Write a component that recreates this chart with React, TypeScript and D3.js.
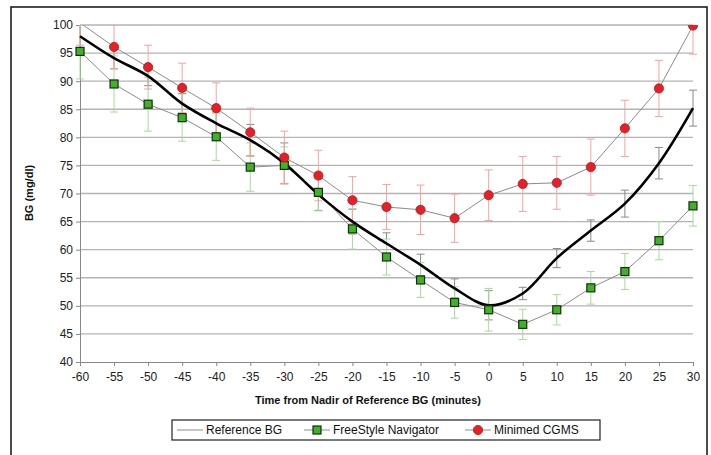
import React, { useEffect, useRef } from "react";
import * as d3 from "d3";

const minutes = [-60, -55, -50, -45, -40, -35, -30, -25, -20, -15, -10, -5, 0, 5, 10, 15, 20, 25, 30];

// Reference BG (thick black curve) and its error
const refBG = [98.0, 94.1, 90.9, 86.0, 82.5, 79.5, 75.4, 69.8, 65.0, 61.1, 57.3, 53.1, 50.1, 52.2, 58.5, 63.4, 68.2, 75.4, 85.2];
const refErr = [2.3, 1.9, 1.7, 1.8, 2.0, 2.8, 3.6, 2.8, 2.2, 1.9, 1.9, 1.7, 2.6, 1.1, 1.7, 1.9, 2.4, 2.8, 3.2];

// FreeStyle Navigator
const navigatorBG = [95.3, 89.5, 85.9, 83.5, 80.1, 74.7, 75.0, 70.2, 63.7, 58.7, 54.6, 50.6, 49.3, 46.7, 49.3, 53.2, 56.1, 61.6, 67.8];
const navigatorErr = [4.9, 5.0, 4.8, 4.2, 4.2, 4.3, 3.3, 3.3, 3.6, 3.2, 3.1, 2.8, 3.8, 2.7, 2.7, 2.9, 3.2, 3.4, 3.6];

// Minimed CGMS
const cgmsBG = [100.4, 96.1, 92.5, 88.8, 85.2, 80.9, 76.4, 73.2, 68.8, 67.6, 67.1, 65.6, 69.7, 71.7, 71.9, 74.7, 81.6, 88.7, 99.9];
const cgmsErr = [4.0, 3.9, 3.9, 4.4, 4.5, 4.3, 4.7, 4.5, 4.2, 4.0, 4.4, 4.3, 4.5, 4.9, 4.7, 5.0, 5.0, 5.0, 5.1];

const yTicks = [40, 45, 50, 55, 60, 65, 70, 75, 80, 85, 90, 95, 100];
const legendLabels = ["Reference BG", "FreeStyle Navigator", "Minimed CGMS"];

const W = 711, H = 455;
const font = "Arial, 'Liberation Sans', sans-serif";

function BGChart() {
  const ref = useRef<SVGSVGElement>(null);

  useEffect(() => {
    const svg = d3.select(ref.current);
    svg.selectAll("*").remove();

    const x = d3.scaleLinear().domain([-60, 30]).range([80, 693]);
    const y = d3.scaleLinear().domain([40, 100]).range([362, 25]);

    // outer frame
    svg.append("rect")
      .attr("x", 11).attr("y", 7)
      .attr("width", 696).attr("height", 470)
      .attr("fill", "white").attr("stroke", "#111").attr("stroke-width", 1.5);

    svg.append("defs").append("clipPath").attr("id", "plot")
      .append("rect").attr("x", 60).attr("y", 25).attr("width", 650).attr("height", 337);

    // gridlines
    svg.append("g")
      .selectAll("line")
      .data(yTicks.filter(t => t > 40))
      .join("line")
      .attr("x1", 80).attr("x2", 693)
      .attr("y1", d => y(d)).attr("y2", d => y(d))
      .attr("stroke", "#b4b4b4").attr("stroke-width", 1.3);

    const yAxis = g => g
      .attr("transform", "translate(80,0)")
      .call(d3.axisLeft(y).tickValues(yTicks).tickSize(4).tickPadding(3).tickFormat(d => String(d)))
      .call(g => g.selectAll("line, path").attr("stroke", "#888"))
      .call(g => g.selectAll("text").attr("font-size", 12).attr("font-family", font).attr("fill", "#222"));

    const xAxis = g => g
      .attr("transform", "translate(0,362)")
      .call(d3.axisBottom(x).tickValues(minutes).tickSize(4).tickPadding(6).tickSizeOuter(0).tickFormat(d => String(d)))
      .call(g => g.selectAll("line, path").attr("stroke", "#888"))
      .call(g => g.selectAll("text").attr("font-size", 12).attr("font-family", font).attr("fill", "#222"));

    svg.append("g").call(yAxis);
    svg.append("g").call(xAxis);

    const plot = svg.append("g").attr("clip-path", "url(#plot)");

    const errorBars = (vals: number[], errs: number[], color: string) => {
      const g = plot.append("g").attr("stroke", color).attr("stroke-width", 1);
      minutes.forEach((m, i) => {
        const cx = x(m), top = y(vals[i] + errs[i]), bot = y(vals[i] - errs[i]);
        g.append("line").attr("x1", cx).attr("x2", cx).attr("y1", top).attr("y2", bot);
        g.append("line").attr("x1", cx - 4).attr("x2", cx + 4).attr("y1", top).attr("y2", top);
        g.append("line").attr("x1", cx - 4).attr("x2", cx + 4).attr("y1", bot).attr("y2", bot);
      });
    };
    errorBars(refBG, refErr, "#8a8a8a");
    errorBars(navigatorBG, navigatorErr, "#a6dc98");
    errorBars(cgmsBG, cgmsErr, "#f5a3a3");

    const thin = d3.line<number>().x((d, i) => x(minutes[i])).y(d => y(d));
    const smooth = d3.line<number>().x((d, i) => x(minutes[i])).y(d => y(d)).curve(d3.curveCatmullRom.alpha(0.5));

    plot.append("path").datum(navigatorBG).attr("d", thin)
      .attr("fill", "none").attr("stroke", "#8c8c8c").attr("stroke-width", 1);
    plot.append("path").datum(cgmsBG).attr("d", thin)
      .attr("fill", "none").attr("stroke", "#8c8c8c").attr("stroke-width", 1);
    plot.append("path").datum(refBG).attr("d", smooth)
      .attr("fill", "none").attr("stroke", "#000").attr("stroke-width", 2.6);

    // markers
    plot.append("g")
      .selectAll("rect")
      .data(navigatorBG)
      .join("rect")
      .attr("x", (d, i) => x(minutes[i]) - 4).attr("y", d => y(d) - 4)
      .attr("width", 8).attr("height", 8)
      .attr("fill", "#43b02a").attr("stroke", "#13300e").attr("stroke-width", 1.2);

    plot.append("g")
      .selectAll("circle")
      .data(cgmsBG.map((v, i) => ({ v, m: minutes[i] })).filter(d => d.v <= 100))
      .join("circle")
      .attr("cx", d => x(d.m)).attr("cy", d => y(d.v))
      .attr("r", 4.6)
      .attr("fill", "#ee1c24").attr("stroke", "#8a2a2a").attr("stroke-width", 0.8);

    // axis titles
    svg.append("text")
      .attr("x", 368).attr("y", 404)
      .attr("text-anchor", "middle")
      .attr("font-family", font).attr("font-size", 11).attr("font-weight", "bold")
      .attr("fill", "#111")
      .text("Time from Nadir of Reference BG (minutes)");

    svg.append("text")
      .attr("transform", "translate(33,193) rotate(-90)")
      .attr("text-anchor", "middle")
      .attr("font-family", font).attr("font-size", 11).attr("font-weight", "bold")
      .attr("fill", "#111")
      .text("BG (mg/dl)");

    // legend
    const lg = svg.append("g");
    lg.append("rect")
      .attr("x", 172).attr("y", 420).attr("width", 428).attr("height", 20)
      .attr("fill", "white").attr("stroke", "#222").attr("stroke-width", 1.2);

    const ly = 430;
    const items = [
      { x0: 177, tx: 206 },
      { x0: 304, tx: 333 },
      { x0: 465, tx: 494 },
    ];
    items.forEach((it, i) => {
      lg.append("line")
        .attr("x1", it.x0).attr("x2", it.x0 + 26).attr("y1", ly).attr("y2", ly)
        .attr("stroke", "#8c8c8c").attr("stroke-width", 1);
      if (i === 1) {
        lg.append("rect").attr("x", it.x0 + 9).attr("y", ly - 4).attr("width", 8).attr("height", 8)
          .attr("fill", "#43b02a").attr("stroke", "#13300e").attr("stroke-width", 1.2);
      }
      if (i === 2) {
        lg.append("circle").attr("cx", it.x0 + 13).attr("cy", ly).attr("r", 4.6)
          .attr("fill", "#ee1c24").attr("stroke", "#8a2a2a").attr("stroke-width", 0.8);
      }
      lg.append("text")
        .attr("x", it.tx).attr("y", ly + 4)
        .attr("font-family", font).attr("font-size", 12).attr("fill", "#111")
        .text(legendLabels[i]);
    });
  }, []);

  return <svg ref={ref} width={W} height={H} style={{ display: "block" }} />;
}

export default function App() {
  return (
    <div style={{ width: W, height: H, overflow: "hidden" }}>
      <style>{"body{margin:0}"}</style>
      <BGChart />
    </div>
  );
}
